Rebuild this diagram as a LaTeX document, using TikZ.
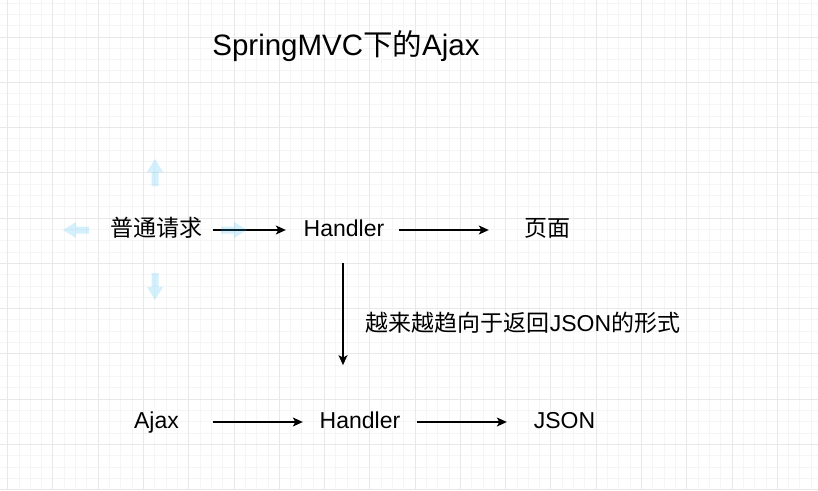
\documentclass[tikz,border=0pt]{standalone}
\usepackage{fontspec}
\setmainfont{Liberation Sans}
\newfontfamily\cjk{Noto Sans CJK SC}
\usetikzlibrary{arrows.meta,calc}
\definecolor{gridminor}{RGB}{245,245,245}
\definecolor{gridmajor}{RGB}{232,232,232}
\definecolor{hoverblue}{HTML}{29B6F2}
\tikzset{
  lbl/.style={inner sep=0pt, anchor=base, font=\fontsize{23}{27}\selectfont},
  ttl/.style={inner sep=0pt, anchor=base, font=\fontsize{29.5}{34}\selectfont},
  arr/.style={-{Stealth[length=10pt,width=9pt,inset=2.5pt]}, line width=1.3pt, black},
  hover/.style={fill=hoverblue, fill opacity=0.2, draw=none}
}
\begin{document}
\begin{tikzpicture}[x=1pt,y=1pt]
\useasboundingbox (0,0) rectangle (818,-490);
\fill[white] (0,0) rectangle (818,-490);
% grid
\foreach \i in {0,...,72}{
  \pgfmathsetmacro\xx{7.7+11.318*\i}
  \draw[gridminor,line width=1pt] (\xx,0) -- (\xx,-490);
}
\foreach \i in {0,...,43}{
  \pgfmathsetmacro\yy{3.05+11.318*\i}
  \draw[gridminor,line width=1pt] (0,-\yy) -- (818,-\yy);
}
\foreach \i in {0,...,17}{
  \pgfmathsetmacro\xx{7.7+45.272*\i}
  \draw[gridmajor,line width=1pt] (\xx,0) -- (\xx,-490);
}
\foreach \i in {0,...,10}{
  \pgfmathsetmacro\yy{37+45.272*\i}
  \draw[gridmajor,line width=1pt] (0,-\yy) -- (818,-\yy);
}
% texts
\node[ttl] (title) at (346,-55) {SpringMVC{\cjk 下的}Ajax};
\node[lbl] (req) at (156,-236) {\cjk 普通请求};
\node[lbl] (h1) at (344,-236) {Handler};
\node[lbl] (page) at (547,-236) {\cjk 页面};
\node[lbl] (lab) at (523,-331) {{\cjk 越来越趋向于返回}JSON{\cjk 的形式}};
\node[lbl] (ajax) at (156.5,-428) {Ajax};
\node[lbl] (h2) at (360,-428) {Handler};
\node[lbl] (json) at (564.5,-428) {JSON};
% connectors
\draw[arr] ($(req.base east)+(11,6)$) -- ($(h1.base west)+(-17.7,6)$);
\draw[arr] ($(h1.base east)+(14.7,6)$) -- ($(page.base west)+(-35,6)$);
\draw[arr] ($(h1.base)+(-1,-27)$) -- ($(h2.north -| h1.base)+(-1,46)$);
\draw[arr] ($(ajax.base east)+(34,6)$) -- ($(h2.base west)+(-16.7,6)$);
\draw[arr] ($(h2.base east)+(16.7,6)$) -- ($(json.base west)+(-26.8,6)$);
% hover arrows around the selected text
\fill[hover] (155,-159) -- (163,-172) -- (158.5,-172) -- (158.5,-186) -- (151.5,-186) -- (151.5,-172) -- (147,-172) -- cycle;
\fill[hover] (155,-300) -- (163,-287) -- (158.5,-287) -- (158.5,-273) -- (151.5,-273) -- (151.5,-287) -- (147,-287) -- cycle;
\fill[hover] (63,-230) -- (76,-222) -- (76,-226.5) -- (89,-226.5) -- (89,-233.5) -- (76,-233.5) -- (76,-238) -- cycle;
\fill[hover] (247,-230) -- (234,-222) -- (234,-226.5) -- (221,-226.5) -- (221,-233.5) -- (234,-233.5) -- (234,-238) -- cycle;
\end{tikzpicture}
\end{document}
